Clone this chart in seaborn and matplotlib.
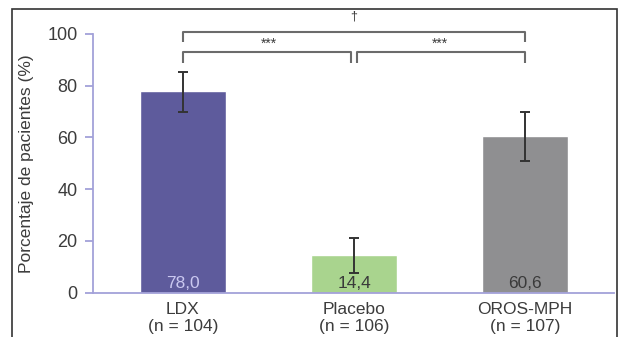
"""
Porcentaje de pacientes por grupo de tratamiento (barras con IC y comparaciones).
"""

import matplotlib
matplotlib.use("Agg")
import pandas as pd
import matplotlib.pyplot as plt
import seaborn as sns
from matplotlib.patches import Rectangle

# Data
groups = ["LDX", "Placebo", "OROS-MPH"]
n_patients = [104, 106, 107]
percent = [78.0, 14.4, 60.6]
ci_low = [70.0, 7.6, 51.0]
ci_high = [85.5, 21.1, 69.8]
value_labels = ["78,0", "14,4", "60,6"]
y_ticks = [0, 20, 40, 60, 80, 100]

bar_colors = ["#5e5b9c", "#a9d48e", "#8f8f91"]
label_colors = ["#cac8f0", "#3a3a3a", "#3a3a3a"]
spine_color = "#a3a1d9"
bracket_color = "#6b6b6b"
text_color = "#3c3c3c"

sns.set_style("white")
plt.rcParams['font.family'] = ['Liberation Sans', 'DejaVu Sans']

df = pd.DataFrame({"group": groups, "percent": percent})

fig = plt.figure(figsize=(6.19, 3.37), dpi=100)
ax = fig.add_axes([93 / 619, 44.3 / 337, 521 / 619, 258.7 / 337])

sns.barplot(data=df, x="group", y="percent", hue="group", palette=bar_colors,
            width=0.5, errorbar=None, legend=False, saturation=1, ax=ax)

# Confidence intervals
xs = list(range(len(groups)))
err = [[p - lo for p, lo in zip(percent, ci_low)],
       [hi - p for p, hi in zip(percent, ci_high)]]
ax.errorbar(xs, percent, yerr=err, fmt="none", ecolor="#333333",
            elinewidth=1.4, capsize=3.5, capthick=1.4, zorder=5)

# Values inside bars
for x, lab, col in zip(xs, value_labels, label_colors):
    ax.text(x, 0.8, lab, ha="center", va="bottom", fontsize=12.5, color=col)

# Significance brackets
def bracket(x1, x2, y_top, drop, clip=False):
    ax.plot([x1, x1, x2, x2], [y_top - drop, y_top, y_top, y_top - drop],
            color=bracket_color, lw=1.5, clip_on=clip, solid_capstyle="butt")

bracket(0, 0.985, 93.0, 4.1)
bracket(1.015, 2, 93.0, 4.1)
bracket(0, 2, 100.9, 3.9)
ax.text(0.5, 96.4, "***", ha="center", va="center", fontsize=10, color=text_color)
ax.text(1.5, 96.4, "***", ha="center", va="center", fontsize=10, color=text_color)
ax.text(1.0, 106.8, "\u2020", ha="center", va="center", fontsize=9, color=text_color,
        clip_on=False)

# Axes styling
ax.set_xlim(-0.526, 2.52)
ax.set_ylim(0, 100)
ax.set_yticks(y_ticks)
ax.set_xticks(xs)
ax.set_xticklabels([f"{g}\n(n = {n})" for g, n in zip(groups, n_patients)],
                   fontsize=12.5, color=text_color, linespacing=1.15)
ax.tick_params(axis="x", length=0, pad=7)
ax.tick_params(axis="y", left=True, length=6, width=1.3, color=spine_color,
               direction="out", pad=5, labelsize=13, labelcolor=text_color)
ax.set_xlabel("")
ax.set_ylabel("Porcentaje de pacientes (%)", fontsize=12.5, color=text_color,
              labelpad=10)
sns.despine(ax=ax, top=True, right=True)
for side in ["left", "bottom"]:
    ax.spines[side].set_color(spine_color)
    ax.spines[side].set_linewidth(1.3)

# Outer frame of the figure
fig.patches.append(Rectangle((12 / 619, -0.1), 605 / 619, 1 - 9 / 337 + 0.1,
                             transform=fig.transFigure, fill=False,
                             edgecolor="#333333", lw=1.2))

plt.savefig("out.png", dpi=100)
plt.close()
